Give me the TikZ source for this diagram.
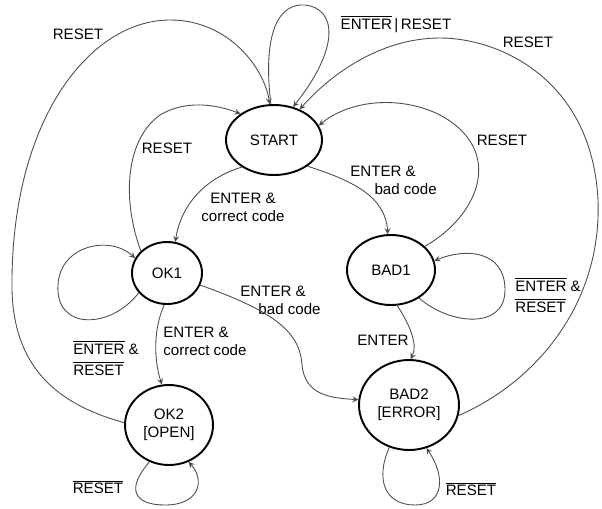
\documentclass[tikz,border=0pt]{standalone}
\usepackage{fontspec}
\setmainfont{Liberation Sans}
\usetikzlibrary{shapes.geometric}
\newcommand{\notsig}[1]{$\overline{\mbox{#1}}$}

\begin{document}
\begin{tikzpicture}[x=0.02cm, y=-0.02cm,
    state/.style={ellipse, draw, line width=1.1pt, inner sep=0pt, align=center,
                  font=\fontsize{8.6}{10.2}\selectfont},
    edge/.style={draw=black!70, line width=0.5pt, ->, >=stealth},
    lbl/.style={inner sep=0pt, align=left, font=\fontsize{8.6}{10.2}\selectfont}]
  \useasboundingbox (0,0) rectangle (602,508);

  % States
  \node[state, minimum width=1.92cm, minimum height=1.4cm] (start) at (274,140) {START};
  \node[state, minimum width=1.4cm, minimum height=1.24cm] (ok1) at (167,273) {OK1};
  \node[state, minimum width=1.76cm, minimum height=1.6cm] (ok2) at (169,425) {OK2\\{[OPEN]}};
  \node[state, minimum width=1.76cm, minimum height=1.4cm] (bad1) at (391,270) {BAD1};
  \node[state, minimum width=2cm, minimum height=1.8cm] (bad2) at (409,405) {BAD2\\{[ERROR]}};

  % Labels
  \node[lbl] (lResetOuter) at (78,34) {RESET};
  \node[lbl] (lStartLoop) at (396,24) {\notsig{ENTER}\,|\,RESET};
  \node[lbl] (lResetBadTwo) at (528,42) {RESET};
  \node[lbl] (lResetOkOne) at (167,148) {RESET};
  \node[lbl] (lResetBadOne) at (502,140) {RESET};
  \node[lbl, align=center] (lStartOk) at (243,207) {ENTER \&\\correct code};
  \node[lbl, anchor=west] (lStartBad) at (350,180) {ENTER \&\\\hspace*{1.6em}bad code};
  \node[lbl, anchor=west] (lOkBad) at (240,300) {ENTER \&\\\hspace*{1.2em}bad code};
  \node[lbl, anchor=west] (lOkOk) at (163,341) {ENTER \&\\correct code};
  \node[lbl, anchor=west] (lOkLoop) at (73,358) {\notsig{ENTER} \&\\[2pt]\notsig{RESET}};
  \node[lbl, anchor=west] (lBadLoop) at (515,295) {\notsig{ENTER} \&\\[2pt]\notsig{RESET}};
  \node[lbl] (lBadBad) at (383,340) {ENTER};
  \node[lbl] (lOkTwoLoop) at (98,487) {\notsig{RESET}};
  \node[lbl] (lBadTwoLoop) at (471,489) {\notsig{RESET}};

  % Transitions back to START
  \draw[edge] (ok2.177) .. controls (60,405) and (14,370) .. (12,290)
              .. controls (10,120) and (90,20) .. (170,20)
              .. controls (230,20) and (265,70) .. (start.97);
  \draw[edge] (start.95) .. controls (262,30) and (280,3) .. (305,5)
              .. controls (335,8) and (342,45) .. (start.60);
  \draw[edge] (bad2.-12) .. controls (540,380) and (602,300) .. (598,200)
              .. controls (592,80) and (500,38) .. (440,38)
              .. controls (380,38) and (330,75) .. (start.50);
  \draw[edge] (bad1.35) .. controls (480,215) and (505,150) .. (440,115)
              .. controls (400,95) and (350,100) .. (start.18);
  \draw[edge] (ok1.140) .. controls (122,200) and (125,140) .. (160,115)
              .. controls (185,100) and (215,104) .. (start.142);

  % Forward transitions
  \draw[edge] (start.220) .. controls (200,180) and (180,210) .. (ok1.75);
  \draw[edge] (start.-38) .. controls (350,180) and (385,195) .. (bad1.95);
  \draw[edge] (ok1.-20) .. controls (270,310) and (300,330) .. (302,365)
              .. controls (305,395) and (330,398) .. (bad2.174);
  \draw[edge] (ok1.265) .. controls (153,330) and (154,360) .. (ok2.100);
  \draw[edge] (bad1.-80) .. controls (410,325) and (418,345) .. (bad2.88);

  % Self loops
  \draw[edge] (ok1.215) .. controls (110,330) and (55,330) .. (58,285)
              .. controls (60,245) and (110,235) .. (ok1.155);
  \draw[edge] (ok2.242) .. controls (125,490) and (135,505) .. (165,505)
              .. controls (200,505) and (205,480) .. (ok2.-62);
  \draw[edge] (bad1.-45) .. controls (450,325) and (505,330) .. (505,290)
              .. controls (505,250) and (465,248) .. (bad1.12);
  \draw[edge] (bad2.245) .. controls (375,480) and (385,505) .. (415,505)
              .. controls (445,505) and (445,475) .. (bad2.-68);
\end{tikzpicture}
\end{document}
